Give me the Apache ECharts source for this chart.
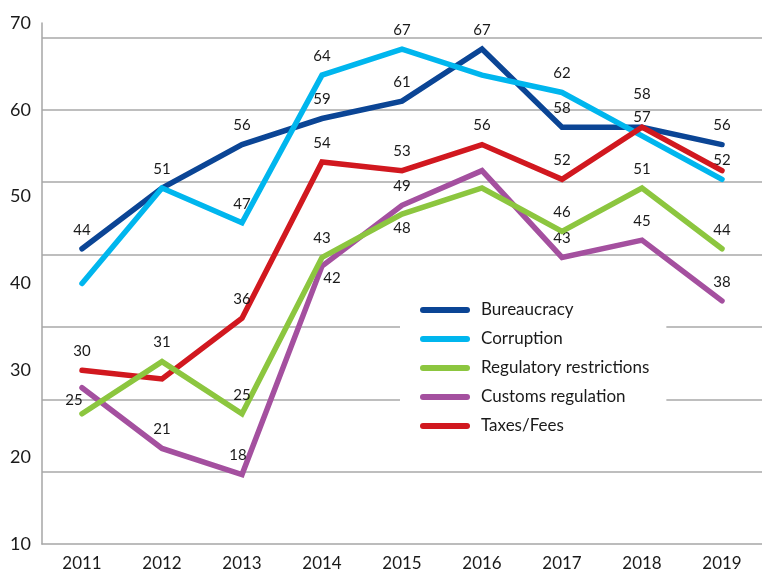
<!DOCTYPE html>
<html>
<head>
<meta charset="utf-8">
<script src="https://cdn.jsdelivr.net/npm/echarts@6/dist/echarts.min.js"></script>
<style>
  html, body { margin: 0; padding: 0; background: #fff; }
  #chart { width: 762px; height: 572px; }
</style>
</head>
<body>
<div id="chart"></div>
<script>
// ---- data ----
const categories = ['2011', '2012', '2013', '2014', '2015', '2016', '2017', '2018', '2019'];
const seriesNames = ['Bureaucracy', 'Corruption', 'Regulatory restrictions', 'Customs regulation', 'Taxes/Fees'];
const bureaucracy = [44, 51, 56, 59, 61, 67, 58, 58, 56];
const corruption  = [40, 51, 47, 64, 67, 64, 62, 57, 52];
const regulatory  = [25, 31, 25, 43, 48, 51, 46, 51, 44];
const customs     = [28, 21, 18, 42, 49, 53, 43, 45, 38];
const taxes       = [30, 29, 36, 54, 53, 56, 52, 58, 53];
// which points carry a value label in the original
const bureaucracyLabeled = [1, 1, 1, 1, 1, 1, 1, 1, 1];
const corruptionLabeled  = [0, 0, 1, 1, 1, 0, 1, 1, 1];
const regulatoryLabeled  = [1, 1, 1, 1, 1, 0, 1, 1, 1];
const customsLabeled     = [0, 1, 1, 1, 1, 0, 1, 1, 1];
const taxesLabeled       = [1, 0, 1, 1, 1, 1, 1, 0, 0];
const yTicks = [10, 20, 30, 40, 50, 60, 70];

// ---- styling ----
const colors = ['#0b4595', '#00b6ee', '#8cc63f', '#a4509f', '#d1181f'];
const zOrder = [2, 3, 6, 4, 5];
const FONT = 'Lato, "Open Sans", sans-serif';
const TXT = '#1a1a1a';
// per-point label placement tweaks (series index -> point index -> override)
const labelTweaks = {
  0: { 7: { offset: [0, -14] } },
  2: { 0: { offset: [-8, 5] }, 4: { position: 'bottom', distance: 6 } },
  3: { 2: { offset: [-4, 0] }, 3: { position: 'bottom', distance: 4, offset: [10, 0] } }
};

const values = [bureaucracy, corruption, regulatory, customs, taxes];
const flags = [bureaucracyLabeled, corruptionLabeled, regulatoryLabeled, customsLabeled, taxesLabeled];

const series = values.map((arr, s) => ({
  name: seriesNames[s],
  type: 'line',
  z: zOrder[s],
  symbol: 'circle',
  symbolSize: 1,
  showSymbol: true,
  showAllSymbol: true,
  animation: false,
  color: colors[s],
  itemStyle: { color: colors[s] },
  lineStyle: { width: 5.5, color: colors[s], cap: 'round', join: 'miter' },
  emphasis: { disabled: true },
  label: { show: false },
  data: arr.map((v, i) => {
    const item = { value: v };
    if (flags[s][i]) {
      const tw = (labelTweaks[s] && labelTweaks[s][i]) || {};
      item.label = Object.assign({
        show: true,
        position: 'top',
        distance: 11,
        fontFamily: FONT,
        fontSize: 15,
        color: TXT
      }, tw);
    }
    return item;
  })
}));

const chart = echarts.init(document.getElementById('chart'), null, { renderer: 'canvas' });
chart.setOption({
  backgroundColor: '#ffffff',
  animation: false,
  textStyle: { fontFamily: FONT },
  grid: { left: 42, right: -11, top: 23, bottom: 27, containLabel: false },
  legend: {
    data: seriesNames,
    orient: 'vertical',
    left: 400,
    top: 288,
    padding: [12, 17, 14, 20],
    backgroundColor: '#ffffff',
    itemWidth: 50,
    itemHeight: 6,
    itemGap: 9,
    icon: 'path://M3,0 H47 A3,3 0 0 1 47,6 H3 A3,3 0 0 1 3,0 Z',
    selectedMode: false,
    textStyle: { fontFamily: FONT, fontSize: 17, lineHeight: 20, color: TXT, padding: [0, 0, 0, 6] }
  },
  xAxis: {
    type: 'category',
    data: categories,
    boundaryGap: true,
    axisLine: { show: true, lineStyle: { color: '#a6a6a6', width: 1.5 } },
    axisTick: { show: false },
    splitLine: { show: false },
    axisLabel: { fontFamily: FONT, fontSize: 17, color: TXT, margin: 11 }
  },
  yAxis: [
    {
      type: 'value',
      min: yTicks[0],
      max: yTicks[yTicks.length - 1],
      interval: yTicks[1] - yTicks[0],
      axisLine: { show: true, lineStyle: { color: '#a6a6a6', width: 1.5 } },
      axisTick: { show: false },
      splitLine: { show: false },
      axisLabel: { fontFamily: FONT, fontSize: 18, color: TXT, margin: 11 }
    },
    {
      // decorative grid lines (original gridlines are spaced 1/7.2 of the height)
      type: 'value',
      position: 'left',
      min: 0,
      max: 7.2,
      interval: 1,
      axisLine: { show: false },
      axisTick: { show: false },
      axisLabel: { show: false },
      splitLine: { show: true, showMinLine: false, showMaxLine: false, lineStyle: { color: '#a8a8a8', width: 1.5 } }
    }
  ],
  series: series
});
</script>
</body>
</html>
